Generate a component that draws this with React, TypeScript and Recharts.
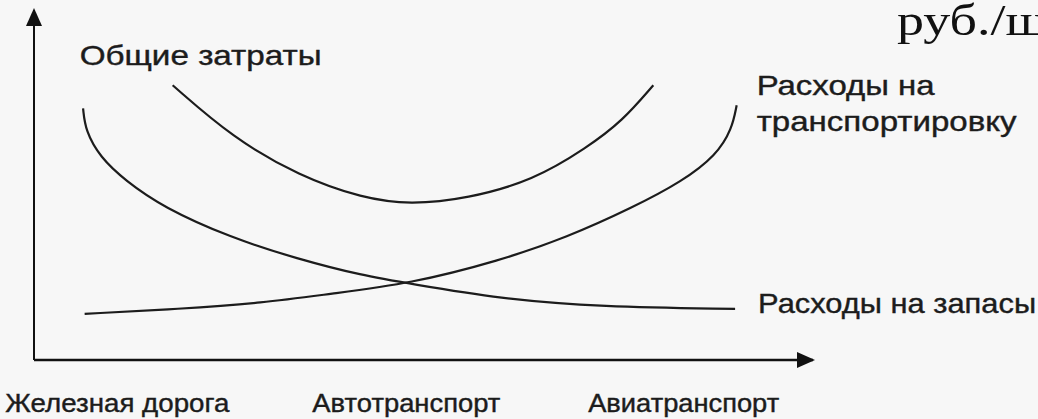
import { LineChart, Line, XAxis, YAxis } from 'recharts';

// transport modes along the x axis (slow/cheap -> fast/expensive)
const modeLabels = ['Железная дорога', 'Автотранспорт', 'Авиатранспорт'];
const modeTicks = [10.7, 47.8, 83.4];

const unitLabel = 'руб./шт.';
const totalLabel = ['Общие затраты'];
const transportLabel = ['Расходы на', 'транспортировку'];
const inventoryLabel = ['Расходы на запасы'];

// [x, cost], both on a 0..100 scale
const inventoryCost: [number, number][] = [
  [6.3, 71.9], [6.6, 65.5], [8.5, 57.9], [11.7, 51.3], [16.6, 43.6], [25.2, 35.0],
  [33.8, 28.9], [42.2, 24.1], [48.3, 21.8], [59.8, 17.5], [72.7, 15.2], [90.0, 14.6],
];
const transportCost: [number, number][] = [
  [6.5, 13.2], [18.7, 14.6], [29.4, 16.3], [38.0, 18.9], [48.3, 21.8], [59.8, 28.4],
  [68.4, 35.0], [76.9, 43.6], [83.2, 51.0], [87.6, 58.5], [89.6, 66.0], [90.2, 72.8],
];
const totalCost: [number, number][] = [
  [17.8, 78.5], [25.5, 63.5], [34.1, 52.5], [42.2, 46.2], [48.3, 44.4], [55.6, 46.1],
  [64.1, 51.3], [71.0, 60.7], [75.5, 68.2], [79.5, 78.5],
];

const toRows = (pts: [number, number][]) => pts.map(([x, y]) => ({ x, y }));

const sans = "'Liberation Sans', Arial, sans-serif";
const ink = '#1c1c1c';

const tickWidths = [224, 188, 191];

function ModeTick(props: any) {
  const { x, y, index } = props;
  return (
    <text
      x={x}
      y={y + 52}
      textAnchor="middle"
      fontFamily={sans}
      fontSize={25}
      fill={ink}
      stroke={ink}
      strokeWidth={0.4}
      textLength={tickWidths[index]}
      lengthAdjust="spacingAndGlyphs"
    >
      {modeLabels[index]}
    </text>
  );
}

// text next to one end of a curve
const curveLabel =
  (lines: string[], widths: number[], dx: number, dys: number[], at: number) => (p: any) => {
    if (p.index !== at) return <g />;
    return (
      <g>
        {lines.map((t, i) => (
          <text
            key={t}
            x={p.x + dx}
            y={p.y + dys[i]}
            fontFamily={sans}
            fontSize={28}
            fill={ink}
            stroke={ink}
            strokeWidth={0.4}
            textLength={widths[i]}
            lengthAdjust="spacingAndGlyphs"
          >
            {t}
          </text>
        ))}
      </g>
    );
  };

export default function App() {
  return (
    <div style={{ position: 'absolute', left: 0, top: 0, width: 1038, height: 419, background: '#f7f7f7', overflow: 'hidden' }}>
      <LineChart width={1038} height={419} margin={{ top: 10, right: 225, bottom: 0, left: 0 }}>
        <defs>
          <marker
            id="axisArrow"
            viewBox="0 0 18 16"
            refX={16}
            refY={8}
            markerWidth={18}
            markerHeight={16}
            markerUnits="userSpaceOnUse"
            orient="auto-start-reverse"
          >
            <path d="M0,0 L18,8 L0,16 z" fill="#111" />
          </marker>
        </defs>
        <XAxis
          type="number"
          dataKey="x"
          domain={[0, 100]}
          ticks={modeTicks}
          interval={0}
          height={59}
          tickSize={0}
          tickMargin={0}
          tickLine={false}
          tick={(p: any) => <ModeTick {...p} />}
          axisLine={{ stroke: '#111', strokeWidth: 2.5, markerEnd: 'url(#axisArrow)' }}
        />
        <YAxis
          type="number"
          dataKey="y"
          domain={[0, 100]}
          width={34}
          tick={false}
          tickLine={false}
          axisLine={{ stroke: '#111', strokeWidth: 2, markerStart: 'url(#axisArrow)' }}
          label={{
            content: () => (
              <text
                x={897}
                y={35}
                fontFamily="'Liberation Serif', 'Times New Roman', serif"
                fontSize={45}
                fill="#111"
                textLength={183}
                lengthAdjust="spacingAndGlyphs"
              >
                {unitLabel}
              </text>
            ),
          }}
        />
        <Line
          data={toRows(inventoryCost)}
          dataKey="y"
          type="basis"
          stroke={ink}
          strokeWidth={2.2}
          dot={false}
          activeDot={false}
          isAnimationActive={false}
          label={curveLabel(inventoryLabel, [278], 23, [4], inventoryCost.length - 1)}
        />
        <Line
          data={toRows(transportCost)}
          dataKey="y"
          type="basis"
          stroke={ink}
          strokeWidth={2.2}
          dot={false}
          activeDot={false}
          isAnimationActive={false}
          label={curveLabel(transportLabel, [178, 260], 20, [-10, 26], transportCost.length - 1)}
        />
        <Line
          data={toRows(totalCost)}
          dataKey="y"
          type="basis"
          stroke={ink}
          strokeWidth={2.2}
          dot={false}
          activeDot={false}
          isAnimationActive={false}
          label={curveLabel(totalLabel, [242], -93, [-20], 0)}
        />
      </LineChart>
    </div>
  );
}
